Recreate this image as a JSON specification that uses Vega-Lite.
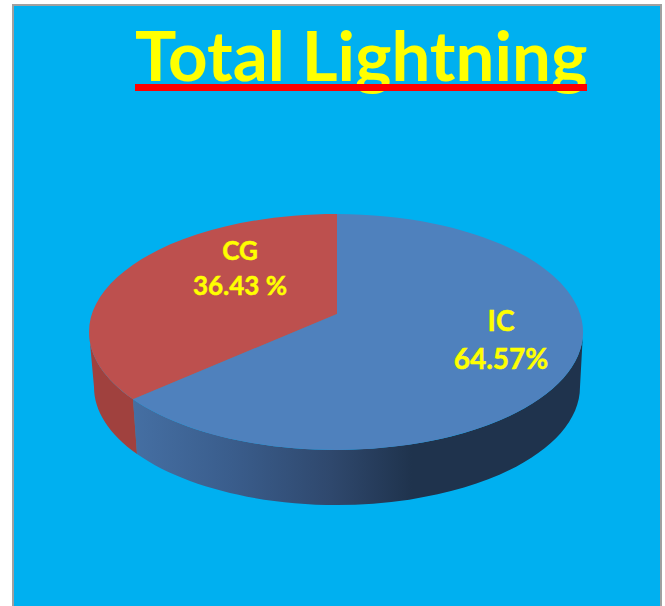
{
"$schema":"https://vega.github.io/schema/vega-lite/v6.json",
"width":648,"height":601,
"autosize":{"type":"none"},
"padding":{"left":13,"top":5,"right":4,"bottom":0},
"background":"white",
"view":{"fill":"#00B0F0","stroke":null},
"data":{"values":[{"category":"IC","share":64.57,"label":"64.57%"},{"category":"CG","share":36.43,"label":"36.43 %"}]},
"encoding":{
"x":{"datum":336,"type":"quantitative","scale":{"domain":[13,661],"nice":false,"zero":false},"axis":null},
"y":{"datum":332,"type":"quantitative","scale":{"domain":[606,5],"nice":false,"zero":false},"axis":null}
},
"layer":[
{"transform":[{"filter":"datum.category==='IC'"}],
 "mark":{"type":"point","filled":true,"opacity":1,"size":4,"strokeWidth":0,
 "shape":"M-203,67.2 A247,118 0 0 0 247,0 L244,55 A243,118 0 0 1 -199,122 Z",
 "fill":{"gradient":"linear","x1":0,"x2":1,"y1":0,"y2":0,"stops":[{"offset":0,"color":"#456FA3"},{"offset":0.22,"color":"#3A5D8C"},{"offset":0.44,"color":"#2F486D"},{"offset":0.62,"color":"#1F334D"},{"offset":1,"color":"#1F334D"}]}}},
{"transform":[{"filter":"datum.category==='CG'"}],
 "mark":{"type":"point","filled":true,"opacity":1,"size":4,"strokeWidth":0,"fill":"#A0413E",
 "shape":"M-247,0 A247,118 0 0 0 -203,67.2 L-199,122 A243,118 0 0 1 -242,55 Z"}},
{"transform":[{"filter":"datum.category==='IC'"}],
 "mark":{"type":"point","filled":true,"opacity":1,"size":4,"strokeWidth":0,"fill":"#4F81BD",
 "shape":"M1,-18 L1,-118 A247,118 0 1 1 -203,67.2 Z"}},
{"transform":[{"filter":"datum.category==='CG'"}],
 "mark":{"type":"point","filled":true,"opacity":1,"size":4,"strokeWidth":0,"fill":"#BD504E",
 "shape":"M1,-18 L-203,67.2 A247,118 0 0 1 1,-118 Z"}},
{"transform":[{"filter":"datum.category==='IC'"}],
 "mark":{"type":"text","font":"Lato","fontWeight":"bold","fontSize":28,"color":"#FFFF00","stroke":"#FFFF00","strokeWidth":0.5,"baseline":"alphabetic","align":"center"},
 "encoding":{"x":{"datum":501,"type":"quantitative"},"y":{"datum":331,"type":"quantitative"},"text":{"field":"category"}}},
{"transform":[{"filter":"datum.category==='IC'"}],
 "mark":{"type":"text","font":"Lato","fontWeight":"bold","fontSize":28,"color":"#FFFF00","stroke":"#FFFF00","strokeWidth":0.5,"baseline":"alphabetic","align":"center"},
 "encoding":{"x":{"datum":501,"type":"quantitative"},"y":{"datum":369,"type":"quantitative"},"text":{"field":"label"}}},
{"transform":[{"filter":"datum.category==='CG'"}],
 "mark":{"type":"text","font":"Lato","fontWeight":"bold","fontSize":26,"color":"#FFFF00","stroke":"#FFFF00","strokeWidth":0.5,"baseline":"alphabetic","align":"center"},
 "encoding":{"x":{"datum":240,"type":"quantitative"},"y":{"datum":260,"type":"quantitative"},"text":{"field":"category"}}},
{"transform":[{"filter":"datum.category==='CG'"}],
 "mark":{"type":"text","font":"Lato","fontWeight":"bold","fontSize":26,"color":"#FFFF00","stroke":"#FFFF00","strokeWidth":0.5,"baseline":"alphabetic","align":"center"},
 "encoding":{"x":{"datum":240,"type":"quantitative"},"y":{"datum":295,"type":"quantitative"},"text":{"field":"label"}}},
{"data":{"values":[{"title":"Total Lightning"}]},
 "mark":{"type":"text","font":"Lato","fontWeight":"bold","fontSize":69,"color":"#FFFF00","baseline":"alphabetic","align":"left"},
 "encoding":{"x":{"datum":135,"type":"quantitative"},"y":{"datum":80.5,"type":"quantitative"},"text":{"field":"title"}}},
{"data":{"values":[{}]},"mark":{"type":"rule","color":"#FF0000","strokeWidth":7},
 "encoding":{"x":{"datum":135,"type":"quantitative"},"x2":{"datum":587},"y":{"datum":87.5,"type":"quantitative"}}},
{"data":{"values":[{}]},"mark":{"type":"rule","color":"#A0A0A0","strokeWidth":2},
 "encoding":{"x":{"datum":13,"type":"quantitative"},"y":{"datum":5,"type":"quantitative"},"y2":{"datum":606}}},
{"data":{"values":[{}]},"mark":{"type":"rule","color":"#A0A0A0","strokeWidth":2},
 "encoding":{"x":{"datum":661,"type":"quantitative"},"y":{"datum":5,"type":"quantitative"},"y2":{"datum":606}}},
{"data":{"values":[{}]},"mark":{"type":"rule","color":"#A0A0A0","strokeWidth":2},
 "encoding":{"x":{"datum":12,"type":"quantitative"},"x2":{"datum":662},"y":{"datum":5,"type":"quantitative"}}}
]
}
